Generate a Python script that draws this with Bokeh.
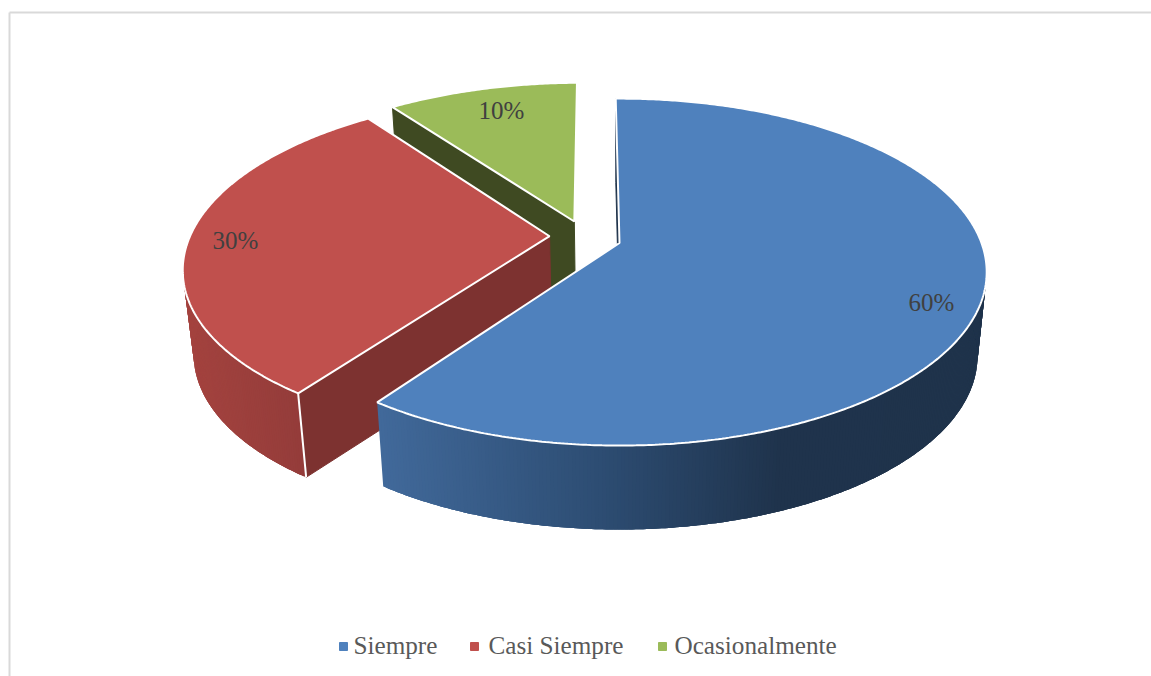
import numpy as np
from bokeh.plotting import figure
from bokeh.embed import file_html
from bokeh.resources import INLINE
from bokeh.core.properties import value

categories = ["Siempre", "Casi Siempre", "Ocasionalmente"]
shares = [60, 30, 10]
labels = ["60%", "30%", "10%"]
colors = ["#4f81bd", "#c0504d", "#9bbb59"]
wall_colors = ["#1f334b", "#7d3230", "#3f4a22"]
side_stops = [
    [(384, "#41699a"), (600, "#2d4d73"), (780, "#1f334c"), (985, "#1f334b")],
    [(185, "#a4433f"), (305, "#943c3a")],
    [(390, "#3f4a22"), (575, "#3f4a22")],
]

label_x = [931, 235, 501]
label_y = [302, 240, 110]
legend_sq_x = [343, 474, 662]
legend_tx_x = [353, 488, 674]
legend_sq_y = 646
legend_tx_y = 645

W, H = 1151, 676
CX, CY = 619.0, 242.5      # projected apex of the first slice
C, A, S = 0.1676, 168.6, 362.0   # perspective terms of the disc
DEPTH, SHRINK = 84.0, 0.975
EXPLODE = 0.1
START = -0.7
NUDGE_U = [0.0, 0.001, 0.0]
NUDGE_V = [0.0, -0.012, -0.006]
OVERLAP = 3


def project(u, v, lower=False):
    d = 1 - C * v
    x, y = S * u / d, A * v / d
    if lower:
        return CX + SHRINK * x, CY + DEPTH + y
    return CX + x, CY + y


def hex2rgb(h):
    return np.array([int(h[i:i + 2], 16) for i in (1, 3, 5)], float)


def grad(stops, x):
    xs = [s[0] for s in stops]
    cs = np.array([hex2rgb(s[1]) for s in stops])
    c = [np.interp(x, xs, cs[:, i]) for i in range(3)]
    return "#%02x%02x%02x" % tuple(int(round(k)) for k in c)


p = figure(width=W, height=H, x_range=(0, W), y_range=(H, 0),
           toolbar_location=None, output_backend="svg", min_border=0,
           outline_line_color=None, background_fill_color="white")
p.axis.visible = False
p.grid.visible = False

# chart frame
p.line([9, 9], [12, H], line_color="#d9d9d9", line_width=2)
p.line([9, W], [12, 12], line_color="#d9d9d9", line_width=2)

# slice geometry from the shares
bounds = np.concatenate([[0], np.cumsum(shares)]) / sum(shares) * 360 + START
mids = (bounds[:-1] + bounds[1:]) / 2
dirs = [(np.sin(np.radians(m)), -np.cos(np.radians(m))) for m in mids]
ou, ov = -EXPLODE * dirs[0][0], -EXPLODE * dirs[0][1]
offs = [(ou + EXPLODE * d[0] + NUDGE_U[j], ov + EXPLODE * d[1] + NUDGE_V[j])
        for j, d in enumerate(dirs)]

# back to front: green, red, blue
for i in [2, 1, 0]:
    a0, a1 = bounds[i], bounds[i + 1]
    du, dv = offs[i]
    th = np.radians(np.linspace(a0, a1, int(abs(a1 - a0) * 2) + 1))
    us, vs = du + np.sin(th), dv - np.cos(th)
    topx, topy = project(us, vs)
    botx, boty = project(us, vs, True)
    ax, ay = project(du, dv)
    bx, by = project(du, dv, True)

    # outer side: overlapping strips shaded by position, painted from the
    # far end so each one covers the seam of the last
    if i != 2:
        idx = [k for k in range(len(th) - 1) if np.cos(th[k]) <= 0.35]
        if i == 0:
            idx = idx[::-1]
        for k in idx:
            if i == 1:
                lo, hi = k, min(k + OVERLAP, len(th) - 1)
            else:
                lo, hi = max(k - OVERLAP + 1, 0), k + 1
            xm = (topx[k] + botx[k]) / 2
            col = grad(side_stops[i], xm)
            xs = np.concatenate([topx[lo:hi + 1], botx[lo:hi + 1][::-1]])
            ys = np.concatenate([topy[lo:hi + 1], boty[lo:hi + 1][::-1]])
            p.patch(xs, ys, fill_color=col, line_color=None)

    # radial wall behind the near cut edge
    wx = [ax, topx[0], botx[0], bx]
    wy = [ay, topy[0], boty[0], by]
    p.patch(wx, wy, fill_color=wall_colors[i], line_color=wall_colors[i], line_width=1)
    if i == 1:
        p.line([topx[0], botx[0]], [topy[0], boty[0]], line_color="white", line_width=2)

    # top face
    fx = np.concatenate([[ax], topx, [ax]])
    fy = np.concatenate([[ay], topy, [ay]])
    p.patch(fx, fy, fill_color=colors[i], line_color="white", line_width=2)

# data labels
font = value("Liberation Serif")
p.text(label_x, label_y, text=labels, text_font=font, text_font_size="25px",
       text_color="#404040", text_align="center", text_baseline="middle")

# legend
p.scatter(legend_sq_x, [legend_sq_y] * 3, marker="square", size=8, color=colors)
p.text(legend_tx_x, [legend_tx_y] * 3, text=categories, text_font=font, text_font_size="25.2px",
       text_color="#595959", text_align="left", text_baseline="middle")

open("out.html", "w").write(file_html(p, INLINE))
